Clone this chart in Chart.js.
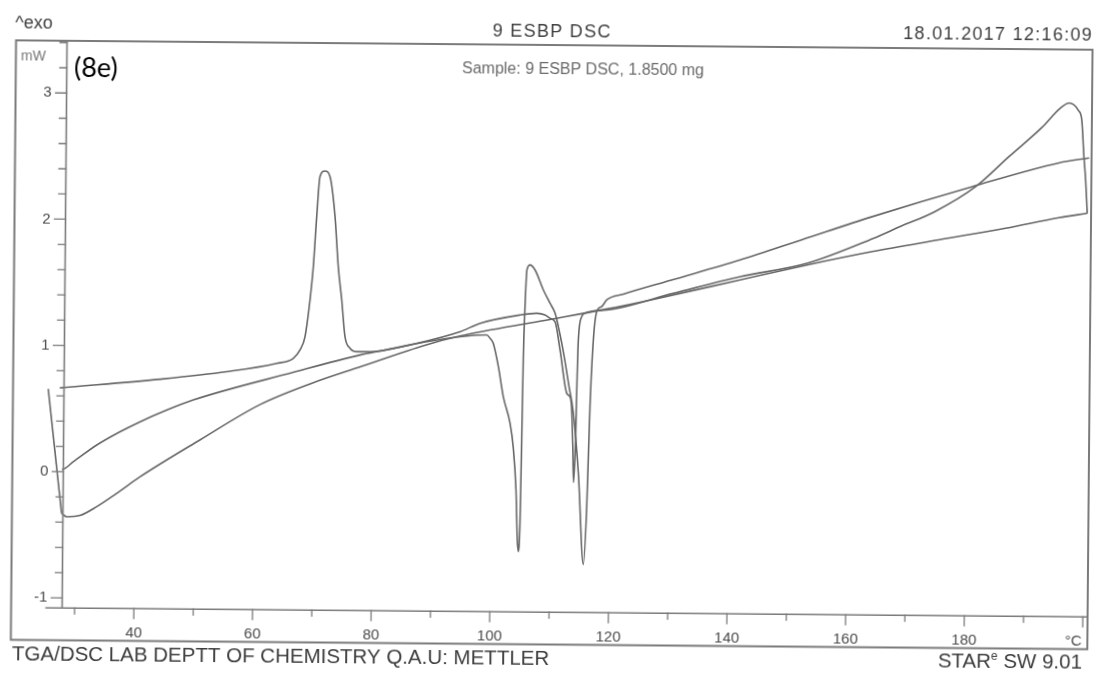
<!DOCTYPE html>
<html>
<head>
<meta charset="utf-8">
<script src="https://cdn.jsdelivr.net/npm/chart.js@4.4.1/dist/chart.umd.min.js"></script>
<style>
  html, body { margin: 0; padding: 0; background: #fff; overflow: hidden; }
  #wrap { width: 1098px; height: 673px; position: relative; }
  #dsc { display: block; transform: rotate(0.5deg); transform-origin: 549px 336.5px; }
</style>
</head>
<body>
<div id="wrap"><canvas id="dsc" width="1098" height="673"></canvas></div>
<script>
// ---- DSC run: heat / cool / heat, heat flow (mW) against temperature (°C) ----

// first heating
const firstHeatTemp = [25.18, 25.95, 26.81, 27.67, 29.56, 33.49, 37.4, 40.74, 45.0, 49.71, 66.53, 77.76, 86.17,
  94.59, 97.94, 104.69, 107.5, 108.89, 109.73, 110.6, 111.47, 112.66, 113.1, 113.49, 113.78, 113.93,
  114.22, 114.35, 114.54, 115.08, 115.63, 119.29, 130.44, 141.72, 152.99, 164.15, 168.62, 174.4, 181.3,
  186.86, 192.43, 195.43, 196.97, 198.52, 199.1, 199.51, 199.83, 200.15];
const firstHeatFlow = [0.234, 0.127, 0.036, 0.018, 0.079, 0.213, 0.32, 0.40, 0.49, 0.577, 0.803, 0.945, 1.028,
  1.136, 1.204, 1.273, 1.288, 1.275, 1.249, 1.22, 0.998, 0.656, 0.635, 0.55, 0.207, -0.05,
  0.286, 0.682, 1.079, 1.264, 1.293, 1.318, 1.454, 1.592, 1.702, 1.905, 1.999, 2.119, 2.321,
  2.561, 2.797, 2.948, 2.99, 2.932, 2.854, 2.566, 2.382, 2.117];

// cooling (listed from low to high temperature)
const coolTemp = [27.67, 28.53, 30.78, 33.58, 36.93, 40.83, 50.89, 60.96, 69.5, 77.9, 88.9, 94.59, 108.06,
  119.17, 128.26, 141.72, 152.99, 163.95, 175.1, 186.41, 195.38, 200.15];
const coolFlow = [-0.330, -0.357, -0.346, -0.275, -0.168, -0.036, 0.261, 0.545, 0.715, 0.853, 1.03, 1.102, 1.225,
  1.325, 1.418, 1.566, 1.689, 1.799, 1.897, 1.994, 2.081, 2.118];

// step back to the start temperature
const returnTemp = [27.67, 25.24];
const returnFlow = [-0.330, 0.655];

// second heating
const secondHeatTemp = [25.24, 27.2, 44.06, 55.3, 63.71, 66.51, 67.62, 68.45, 69.24, 69.75, 70.25, 70.74,
  71.57, 72.43, 73.34, 73.96, 74.59, 75.19, 76.05, 77.18, 79.43, 84.49, 89.0, 99.09, 99.65, 100.2,
  101.1, 101.97, 103.15, 103.72, 104.25, 104.54, 104.72, 104.97, 105.14, 105.29, 105.5, 105.77, 106.29,
  107.13, 108.57, 109.71, 110.59, 111.4, 112.18, 113.0, 113.81, 114.74, 115.72, 116.2, 116.6, 117.07,
  117.6, 118.43, 119.27, 122.07, 130.0, 141.69, 152.0, 163.9, 180.73, 195.3, 200.4];
const secondHeatFlow = [0.655, 0.664, 0.739, 0.803, 0.873, 0.914, 0.98, 1.086, 1.377, 1.641, 2.038, 2.355,
  2.40, 2.356, 2.039, 1.643, 1.38, 1.089, 0.998, 0.971, 0.971, 1.01, 1.055, 1.112, 1.086, 1.047,
  0.862, 0.624, 0.414, 0.225, -0.114, -0.51, -0.60, -0.375, 0.283, 0.943, 1.339, 1.63, 1.67,
  1.631, 1.473, 1.368, 1.288, 1.13, 0.945, 0.72, 0.498, 0.023, -0.70, -0.242, 0.552, 1.08,
  1.304, 1.345, 1.398, 1.445, 1.558, 1.724, 1.887, 2.076, 2.321, 2.515, 2.557];

// axis ranges and labels
const tempRange = [27.9, 200.8];
const flowRange = [-1.08, 3.414];
const tempLabels = [40, 60, 80, 100, 120, 140, 160, 180];
const flowLabels = [-1, 0, 1, 2, 3];

// ---- styling ----
const LINE = '#676767';
const FRAME = '#7b7b7b';
const INK = '#3d3d3d';
const SANS = '"Liberation Sans", Arial, sans-serif';
const outer = { left: 13.5, bottom: 644.5 };

const pts = (t, f) => t.map((x, i) => ({ x, y: f[i] }));
const run = (t, f, smooth) => ({
  data: pts(t, f), showLine: true, borderColor: LINE, borderWidth: 1.6,
  pointRadius: 0, fill: false, clip: false,
  cubicInterpolationMode: smooth ? 'monotone' : 'default', tension: 0
});

function text(ctx, s, x, y, font, color, align, spacing) {
  ctx.save();
  ctx.font = font;
  ctx.fillStyle = color;
  ctx.textAlign = align;
  ctx.textBaseline = 'middle';
  if (spacing) ctx.letterSpacing = spacing + 'px';
  ctx.fillText(s, x, y);
  ctx.restore();
}

const printout = {
  id: 'printout',
  afterDraw(chart) {
    const ctx = chart.ctx;
    const { left, right, top, bottom } = chart.chartArea;
    const xs = chart.scales.x, ys = chart.scales.y;
    ctx.save();
    ctx.strokeStyle = FRAME;
    ctx.lineCap = 'square';

    // outer frame
    ctx.lineWidth = 2;
    ctx.beginPath();
    ctx.moveTo(outer.left, top);
    ctx.lineTo(right, top);
    ctx.lineTo(right, outer.bottom);
    ctx.lineTo(outer.left, outer.bottom);
    ctx.closePath();
    ctx.stroke();

    // axes
    ctx.lineWidth = 1.6;
    ctx.beginPath();
    ctx.moveTo(left, top);
    ctx.lineTo(left, bottom);
    ctx.moveTo(xs.getPixelForValue(25.2), bottom);
    ctx.lineTo(right, bottom);
    ctx.stroke();

    // tick marks
    ctx.lineWidth = 1.3;
    ctx.beginPath();
    xs.ticks.forEach(t => {
      const px = xs.getPixelForValue(t.value);
      const len = Math.round(t.value) % 20 === 0 ? 10 : 6;
      ctx.moveTo(px, bottom);
      ctx.lineTo(px, bottom + len);
    });
    ys.ticks.forEach(t => {
      const py = ys.getPixelForValue(t.value);
      const len = Math.abs(t.value - Math.round(t.value)) < 1e-6 ? 11 : 7;
      ctx.moveTo(left - len, py);
      ctx.lineTo(left, py);
    });
    ctx.stroke();
    ctx.restore();

    // header
    text(ctx, '^exo', 12.5, 28.5, '18px ' + SANS, INK, 'left');
    text(ctx, '9 ESBP DSC', 549.5, 32, '18px ' + SANS, INK, 'center', 1.3);
    text(ctx, '18.01.2017 12:16:09', 1090.4, 31.1, '18px ' + SANS, INK, 'right', 1.3);
    text(ctx, 'Sample: 9 ESBP DSC, 1.8500 mg', 580.7, 69.7, '16px ' + SANS, '#6a6a6a', 'center');
    text(ctx, 'mW', 18.6, 61.3, '14px ' + SANS, '#777', 'left');
    text(ctx, '(8e)', 71.7, 72, '27px Lato, "Open Sans", sans-serif', '#000', 'left');

    // unit at the end of the temperature axis
    text(ctx, '°C', xs.getPixelForValue(200) - 1, 636.4, '15px ' + SANS, '#4a4a4a', 'right');

    // footer
    text(ctx, 'TGA/DSC LAB DEPTT OF CHEMISTRY Q.A.U: METTLER', 14.8, 659.3, '20.5px ' + SANS, INK, 'left');
    ctx.save();
    ctx.font = '20.5px ' + SANS;
    const w1 = ctx.measureText('STAR').width;
    const w3 = ctx.measureText(' SW 9.01').width;
    ctx.font = '12px ' + SANS;
    const w2 = ctx.measureText('e').width;
    ctx.restore();
    const x0 = 1084.8 - (w1 + w2 + w3);
    text(ctx, 'STAR', x0, 658.5, '20.5px ' + SANS, INK, 'left');
    text(ctx, 'e', x0 + w1, 653, '12px ' + SANS, INK, 'left');
    text(ctx, ' SW 9.01', x0 + w1 + w2, 658.5, '20.5px ' + SANS, INK, 'left');
  }
};

new Chart(document.getElementById('dsc'), {
  type: 'scatter',
  data: {
    datasets: [
      run(firstHeatTemp, firstHeatFlow, true),
      run(coolTemp, coolFlow, true),
      run(returnTemp, returnFlow, false),
      run(secondHeatTemp, secondHeatFlow, true)
    ]
  },
  options: {
    responsive: false,
    animation: false,
    devicePixelRatio: 1,
    events: [],
    layout: { padding: { left: 0, top: 45, right: 8, bottom: 0 } },
    plugins: { legend: { display: false }, tooltip: { enabled: false }, title: { display: false } },
    scales: {
      x: {
        type: 'linear', position: 'bottom',
        min: tempRange[0], max: tempRange[1],
        afterFit: s => { s.height = 60.8; },
        border: { display: false },
        grid: { drawOnChartArea: false, drawTicks: true, tickLength: 10, tickColor: 'rgba(0,0,0,0)' },
        ticks: {
          stepSize: 10, includeBounds: false, autoSkip: false, maxRotation: 0, padding: 6,
          color: '#4a4a4a', font: { family: SANS, size: 15 },
          callback: v => tempLabels.includes(Math.round(v)) && Math.abs(v - Math.round(v)) < 1e-6 ? String(Math.round(v)) : ''
        }
      },
      y: {
        type: 'linear', position: 'left',
        min: flowRange[0], max: flowRange[1],
        afterFit: s => { s.width = 64.5; },
        border: { display: false },
        grid: { drawOnChartArea: false, drawTicks: true, tickLength: 8, tickColor: 'rgba(0,0,0,0)' },
        ticks: {
          stepSize: 0.2, includeBounds: false, autoSkip: false, padding: 7,
          color: '#4a4a4a', font: { family: SANS, size: 15 },
          callback: v => {
            const r = Math.round(v);
            return Math.abs(v - r) < 1e-6 && flowLabels.includes(r) ? String(r) : '';
          }
        }
      }
    }
  },
  plugins: [printout]
});
</script>
</body>
</html>
